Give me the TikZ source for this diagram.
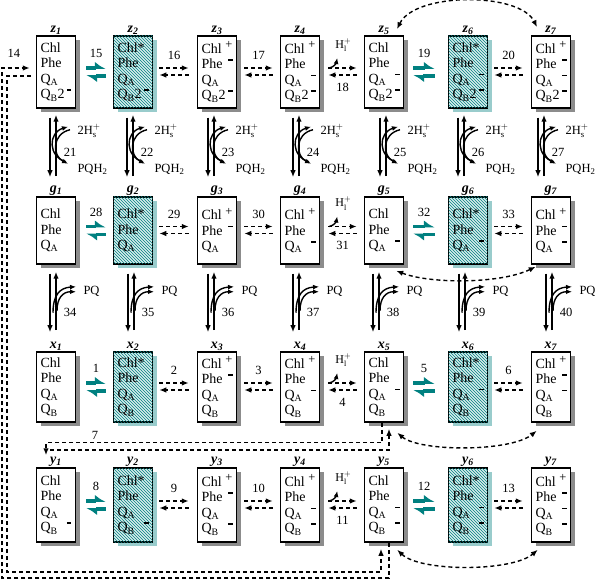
\documentclass[tikz,border=0pt]{standalone}
\usepackage{fontspec}
\usepackage{amsmath}
\setmainfont{Liberation Serif}
\usetikzlibrary{arrows.meta,calc,patterns,shadows}

\definecolor{exteal}{RGB}{0,128,128}
\newcommand{\QA}{Q\textsubscript{A}}
\newcommand{\QB}{Q\textsubscript{B}}
\newcommand{\chp}{\hfill\raisebox{4.5pt}{\fontsize{12.5}{12}\selectfont +}}
\newcommand{\mbar}{\rule[8pt]{4.5pt}{1.5pt}}
\newcommand{\chm}{\hfill\mbar}
\newcommand{\QBdd}{\QB\hfill 2\,\mbar}
\newcommand{\rlab}[2]{\textbf{\textit{#1}\textsubscript{\textit{#2}}}}

\tikzset{
  cell/.style={draw,line width=1.5pt,fill=white,align=left,text width=31pt,
    inner xsep=4pt,inner ysep=1pt,font=\fontsize{14}{15.5}\selectfont},
  plain/.style={cell,drop shadow={shadow xshift=4pt,shadow yshift=-4pt,fill=black!45,opacity=1}},
  excited/.style={cell,fill=exteal!15,postaction={pattern=north west lines,pattern color=exteal},
    drop shadow={shadow xshift=4pt,shadow yshift=-4pt,fill=exteal!40,opacity=1}},
  rowlab/.style={inner sep=0.5pt,font=\fontsize{14}{14}\selectfont},
  num/.style={text=black,font=\fontsize{12.5}{14}\selectfont},
  dline/.style={line width=1.4pt,dash pattern=on 4pt off 3pt},
  darr/.style={dline,->},
  tarr/.style={exteal,line width=3.5pt,-{Latex[harpoon,length=9pt,width=13pt]}},
  varr/.style={line width=1.4pt,->},
  carr/.style={line width=1.4pt,-{Latex[length=6pt,width=5pt]}},
}

\begin{document}
\begin{tikzpicture}[x=1pt,y=-1pt,>={Latex[length=7pt,width=5.5pt]}]
  \useasboundingbox (0,0) rectangle (595,580);
  % states z
  \foreach \col/\xx/\kind/\txt in {1/56/plain/{Chl\\Phe\\\QA\\\QBdd},
      2/133/excited/{Chl*\\Phe\\\QA\\\QBdd},
      3/217/plain/{Chl\chp\\Phe\chm\\\QA\\\QBdd},
      4/300/plain/{Chl\chp\\Phe\\\QA\chm\\\QBdd},
      5/384/plain/{Chl\\Phe\\\QA\chm\\\QBdd},
      6/468/excited/{Chl*\\Phe\\\QA\chm\\\QBdd},
      7/551/plain/{Chl\chp\\Phe\chm\\\QA\chm\\\QBdd}}
    \node[\kind,minimum height=72pt,label={[rowlab]above:\rlab{z}{\col}}] (z\col) at (\xx,72) {\txt};
  % states g
  \foreach \col/\xx/\kind/\txt in {1/56/plain/{Chl\\Phe\\\QA},
      2/133/excited/{Chl*\\Phe\\\QA},
      3/217/plain/{Chl\chp\\Phe\chm\\\QA},
      4/300/plain/{Chl\chp\\Phe\\\QA\chm},
      5/384/plain/{Chl\\Phe\\\QA\chm},
      6/468/excited/{Chl*\\Phe\\\QA\chm},
      7/551/plain/{Chl\chp\\Phe\chm\\\QA\chm}}
    \node[\kind,minimum height=67pt,label={[rowlab]above:\rlab{g}{\col}}] (g\col) at (\xx,230.5) {\txt};
  % states x
  \foreach \col/\xx/\kind/\txt in {1/56/plain/{Chl\\Phe\\\QA\\\QB},
      2/133/excited/{Chl*\\Phe\\\QA\\\QB},
      3/217/plain/{Chl\chp\\Phe\chm\\\QA\\\QB},
      4/300/plain/{Chl\chp\\Phe\\\QA\chm\\\QB},
      5/384/plain/{Chl\\Phe\\\QA\chm\\\QB},
      6/468/excited/{Chl*\\Phe\\\QA\chm\\\QB},
      7/551/plain/{Chl\chp\\Phe\chm\\\QA\chm\\\QB}}
    \node[\kind,minimum height=70pt,label={[rowlab]above:\rlab{x}{\col}}] (x\col) at (\xx,387) {\txt};
  % states y
  \foreach \col/\xx/\kind/\txt in {1/56/plain/{Chl\\Phe\\\QA\\\QB\chm},
      2/133/excited/{Chl*\\Phe\\\QA\\\QB\chm},
      3/217/plain/{Chl\chp\\Phe\chm\\\QA\\\QB\chm},
      4/300/plain/{Chl\chp\\Phe\\\QA\chm\\\QB\chm},
      5/384/plain/{Chl\\Phe\\\QA\chm\\\QB\chm},
      6/468/excited/{Chl*\\Phe\\\QA\chm\\\QB\chm},
      7/551/plain/{Chl\chp\\Phe\chm\\\QA\chm\\\QB\chm}}
    \node[\kind,minimum height=74pt,label={[rowlab]above:\rlab{y}{\col}}] (y\col) at (\xx,505) {\txt};

  % reactions along each row
  \foreach \rw/\na/\nb/\nc/\nd/\ne/\nf in {z/15/16/17/18/19/20,g/28/29/30/31/32/33,x/1/2/3/4/5/6,y/8/9/10/11/12/13}{
    \draw[tarr] ([xshift=10pt,yshift=4pt]\rw1.east) -- node[num,above=5pt]{\na} ([xshift=-7pt,yshift=4pt]\rw2.west);
    \draw[tarr] ([xshift=-7pt,yshift=-4pt]\rw2.west) -- ([xshift=10pt,yshift=-4pt]\rw1.east);
    \draw[darr] ([xshift=6pt,yshift=4pt]\rw2.east) -- node[num,above=4pt]{\nb} ([xshift=-8pt,yshift=4pt]\rw3.west);
    \draw[darr] ([xshift=-8pt,yshift=-3pt]\rw3.west) -- ([xshift=6pt,yshift=-3pt]\rw2.east);
    \draw[darr] ([xshift=7pt,yshift=4pt]\rw3.east) -- node[num,above=4pt]{\nc} ([xshift=-7pt,yshift=4pt]\rw4.west);
    \draw[darr] ([xshift=-7pt,yshift=-3pt]\rw4.west) -- ([xshift=7pt,yshift=-3pt]\rw3.east);
    \draw[darr] ([xshift=8pt,yshift=4pt]\rw4.east) -- ([xshift=-7pt,yshift=4pt]\rw5.west);
    \draw[darr] ([xshift=-7pt,yshift=-3pt]\rw5.west) -- node[num,below=4pt]{\nd} ([xshift=8pt,yshift=-3pt]\rw4.east);
    \draw[carr] ([xshift=9pt,yshift=4pt]\rw4.east) .. controls ([xshift=14pt,yshift=5pt]\rw4.east)
      and ([xshift=16pt,yshift=9pt]\rw4.east) .. ([xshift=17pt,yshift=14pt]\rw4.east);
    \node[font=\fontsize{12}{12}\selectfont] at ([xshift=23pt,yshift=27pt]\rw4.east) {H$_{\text{l}}^{+}$};
    \draw[tarr] ([xshift=9pt,yshift=4pt]\rw5.east) -- node[num,above=5pt]{\ne} ([xshift=-13pt,yshift=4pt]\rw6.west);
    \draw[tarr] ([xshift=-13pt,yshift=-4pt]\rw6.west) -- ([xshift=9pt,yshift=-4pt]\rw5.east);
    \draw[darr] ([xshift=6pt,yshift=4pt]\rw6.east) -- node[num,above=4pt]{\nf} ([xshift=-8pt,yshift=4pt]\rw7.west);
    \draw[darr] ([xshift=-8pt,yshift=-3pt]\rw7.west) -- ([xshift=6pt,yshift=-3pt]\rw6.east);
  }

  % reactions between rows (z-g with 2H+/PQH2, g-x with PQ)
  \foreach \col/\nzg/\ngx/\da/\db in {1/21/34/-1/-1,2/22/35/-1/0,3/23/36/-4/-4,4/24/37/-2/-2,
      5/25/38/1/-6,6/26/39/-5/-4,7/27/40/-8/0}{
    \draw[varr] ([xshift=\da-5,yshift=-9pt]z\col.south) -- ([xshift=\da-5,yshift=19pt]g\col.north);
    \draw[varr] ([xshift=\da+1,yshift=20pt]g\col.north) -- ([xshift=\da+1,yshift=-6pt]z\col.south);
    \begin{scope}[shift={(z\col.south)},xshift=\da]
      \draw[carr] (11,53) .. controls (-7,48) and (-7,24) .. (13,18);
      \draw[carr] (15,21) .. controls (-3,25) and (-3,47) .. (13,55);
      \node[num,anchor=west] at (19,22) {2H$_{\text{s}}^{+}$};
      \node[num] at (15,44) {\nzg};
      \node[num,anchor=west] at (19,61) {PQH\textsubscript{2}};
    \end{scope}
    \draw[varr] ([xshift=\db-5,yshift=-9pt]g\col.south) -- ([xshift=\db-5,yshift=19pt]x\col.north);
    \draw[varr] ([xshift=\db+1,yshift=21pt]x\col.north) -- ([xshift=\db+1,yshift=-7pt]g\col.south);
    \begin{scope}[shift={(g\col.south)},xshift=\db]
      \draw[carr] (-2,48) .. controls (-2,30) and (5,23) .. (21,22);
      \draw[carr] (2,46) .. controls (2,33) and (8,27) .. (21,27);
      \node[num,anchor=west] at (25,27) {PQ};
      \node[num] at (15,48) {\ngx};
    \end{scope}
  }

  % long range transfers
  \draw[dline,<->] ([xshift=13pt,yshift=6pt]z5.north) .. controls (415,-8) and (520,-8) .. ([xshift=-14pt,yshift=8pt]z7.north);
  \draw[dline,<->] ([xshift=-8pt,yshift=-6pt]g5.south east) .. controls (430,284) and (500,284) .. ([xshift=5pt,yshift=-2pt]g7.south west);
  \draw[dline,<->] ([xshift=-7pt,yshift=-10pt]x5.south east) .. controls (420,452) and (510,452) .. ([xshift=6pt,yshift=-8pt]x7.south west);
  \draw[dline,<->] ([xshift=-7pt,yshift=-7pt]y5.south east) .. controls (420,572) and (512,572) .. ([xshift=7pt,yshift=-7pt]y7.south west);

  % 7
  \draw[darr] ([xshift=-2pt]x5.south) -- ++(0,20) -| ([xshift=-10pt,yshift=12pt]y1.north);
  \coordinate (yback) at (50,450);
  \draw[darr] (yback) -| ([xshift=5pt,yshift=-6pt]x5.south);
  \node[num] at (95,435) {7};
  % 14
  \draw[darr] ([xshift=5pt]y5.south) |- (2,578) |- ([xshift=-6pt,yshift=4pt]z1.west);
  \draw[darr] ([xshift=-5pt,yshift=-4pt]z1.west) -| (7,572) -| ([xshift=-3pt,yshift=-6pt]y5.south);
  \node[num] at (14,53) {14};
\end{tikzpicture}
\end{document}
